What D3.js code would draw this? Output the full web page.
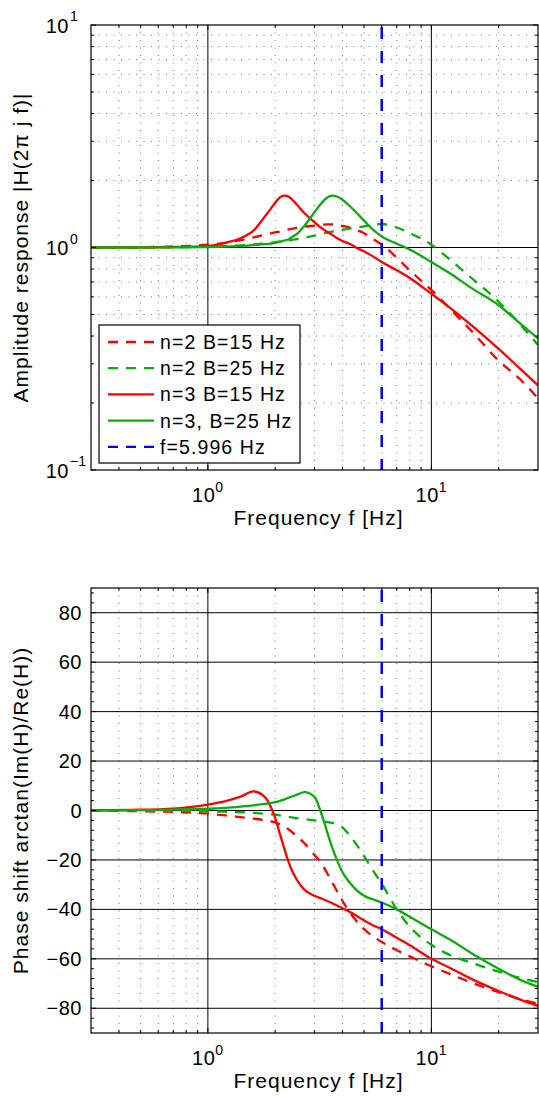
<!DOCTYPE html>
<html>
<head>
<meta charset="utf-8">
<script src="https://cdn.jsdelivr.net/npm/d3@7"></script>
<style>
  body { margin: 0; background: #fff; }
  svg text { font-family: "Liberation Sans", Arial, Helvetica, sans-serif; fill: #000; }
</style>
</head>
<body>
<div id="chart"></div>
<script>
// frequency grid (Hz), shared by every series
var freq = [0.3, 0.5, 0.7, 1, 1.2, 1.4, 1.6, 1.8, 1.9, 2, 2.1, 2.2, 2.3, 2.4, 2.5, 2.7,
            3, 3.2, 3.4, 3.6, 3.8, 4, 4.3, 4.6, 5, 5.5, 6, 7, 8, 10, 12, 15, 20, 25, 30];

// amplitude |H(2 pi j f)|
var ampN2B15 = [1.0, 1.003, 1.01, 1.03, 1.05, 1.08, 1.11, 1.14, 1.155, 1.17, 1.18, 1.195, 1.205, 1.215, 1.225, 1.24,
                1.255, 1.265, 1.27, 1.27, 1.265, 1.25, 1.23, 1.2, 1.16, 1.09, 1.03, 0.9, 0.79, 0.645, 0.535, 0.425, 0.31, 0.255, 0.21];
var ampN2B25 = [1.0, 1.0, 1.003, 1.008, 1.015, 1.022, 1.032, 1.045, 1.05, 1.057, 1.064, 1.07, 1.077, 1.084, 1.09, 1.105,
                1.13, 1.15, 1.165, 1.18, 1.19, 1.2, 1.215, 1.23, 1.245, 1.265, 1.275, 1.23, 1.16, 1.03, 0.89, 0.735, 0.57, 0.45, 0.365];
var ampN3B15 = [1.0, 1.002, 1.005, 1.015, 1.05, 1.1, 1.19, 1.38, 1.48, 1.59, 1.68, 1.71, 1.69, 1.63, 1.56, 1.43,
                1.3, 1.23, 1.18, 1.14, 1.1, 1.07, 1.04, 1.0, 0.96, 0.91, 0.86, 0.79, 0.73, 0.62, 0.54, 0.45, 0.35, 0.285, 0.24];
var ampN3B25 = [1.0, 1.0, 1.002, 1.005, 1.01, 1.015, 1.025, 1.035, 1.04, 1.05, 1.06, 1.075, 1.09, 1.12, 1.15, 1.25,
                1.44, 1.57, 1.67, 1.71, 1.69, 1.64, 1.54, 1.44, 1.32, 1.2, 1.12, 1.04, 0.98, 0.86, 0.77, 0.66, 0.55, 0.455, 0.39];

// phase shift (degrees)
var phaseN2B15 = [-0.1, -0.3, -0.6, -1.3, -2, -2.7, -3.3, -3.9, -4.3, -4.8, -5.6, -6.6, -7.7, -9, -10.4, -13.2,
                  -18, -21, -25, -29, -33, -36.5, -41, -44.5, -48, -51, -53.2, -56.5, -59, -63, -66, -69.5, -73.5, -76.3, -78.2];
var phaseN2B25 = [-0.02, -0.05, -0.15, -0.3, -0.5, -0.7, -1, -1.3, -1.5, -1.7, -2, -2.3, -2.6, -2.9, -3.1, -3.5,
                  -4, -4.3, -4.6, -5, -5.7, -6.8, -10, -13.5, -18.5, -24.5, -29.6, -40, -47, -54.3, -58.3, -61.5, -65.2, -67.7, -69.4];
var phaseN3B15 = [0.1, 0.3, 0.8, 2.4, 3.8, 5.6, 7.7, 5.4, 2, -3, -9.5, -15.5, -21, -25, -28, -32,
                  -34.5, -35.5, -36.5, -37.5, -38.5, -39.5, -41, -42.5, -44.5, -46.5, -48, -51.5, -54.5, -60, -63.5, -68, -73, -76.5, -79];
var phaseN3B25 = [0.05, 0.15, 0.35, 0.7, 1.1, 1.6, 2.1, 2.7, 3, 3.4, 3.9, 4.5, 5.2, 5.8, 6.4, 7.4,
                  5.5, -0.5, -8, -15, -20.5, -25, -29, -32, -34.5, -36, -37.2, -40, -43, -48, -52, -57.5, -64, -68.5, -71.3];

var seriesNames = ["n=2 B=15 Hz", "n=2 B=25 Hz", "n=3 B=15 Hz", "n=3, B=25 Hz"];
var markerFreq = 5.996;
var markerName = "f=5.996 Hz";

var xMajorTicks = [1, 10];
var xMinorTicks = [0.4, 0.5, 0.6, 0.7, 0.8, 0.9, 2, 3, 4, 5, 6, 7, 8, 9, 20];
var ampMajorTicks = [0.1, 1, 10];
var ampMinorTicks = [0.2, 0.3, 0.4, 0.5, 0.6, 0.7, 0.8, 0.9, 2, 3, 4, 5, 6, 7, 8, 9];
var phaseMajorTicks = [-80, -60, -40, -20, 0, 20, 40, 60, 80];
var phaseMinorTicks = d3.range(-88, 89, 4).filter(function(v) { return v % 20 !== 0; });

function init() {
    var w = 539, h = 1096;
    var left = 91, right = 538;
    var red = "#ff0000", green = "#0aad0a", blue = "#0000ff";

    var series = [
        { name: seriesNames[0], color: red,   dash: "10,8", amp: ampN2B15, phase: phaseN2B15 },
        { name: seriesNames[1], color: green, dash: "10,8", amp: ampN2B25, phase: phaseN2B25 },
        { name: seriesNames[2], color: red,   dash: null,   amp: ampN3B15, phase: phaseN3B15 },
        { name: seriesNames[3], color: green, dash: null,   amp: ampN3B25, phase: phaseN3B25 }
    ];

    var svg = d3.select("#chart").append("svg")
        .attr("width", w).attr("height", h);

    var xScale = d3.scaleLog().domain([0.3, 30]).range([left, right]);

    function panel(opt) {
        var y = opt.y, top = opt.top, bottom = opt.bottom;
        var g = svg.append("g");
        var clipId = "clip" + opt.key;
        svg.append("clipPath").attr("id", clipId).append("rect")
            .attr("x", left).attr("y", top).attr("width", right - left).attr("height", bottom - top);

        // dotted minor grid
        g.selectAll(".vminor").data(xMinorTicks).enter().append("line")
            .attr("x1", function(d) { return xScale(d); }).attr("x2", function(d) { return xScale(d); })
            .attr("y1", top).attr("y2", bottom)
            .attr("stroke", "#666").attr("stroke-width", 0.9).attr("stroke-dasharray", "1,6.5");
        if (opt.hMinorGrid) {
            g.selectAll(".hminor").data(opt.minor).enter().append("line")
                .attr("x1", left).attr("x2", right)
                .attr("y1", function(d) { return y(d); }).attr("y2", function(d) { return y(d); })
                .attr("stroke", "#666").attr("stroke-width", 0.9).attr("stroke-dasharray", "1,6.5");
        }
        // solid major grid
        g.selectAll(".vmajor").data(xMajorTicks).enter().append("line")
            .attr("x1", function(d) { return xScale(d); }).attr("x2", function(d) { return xScale(d); })
            .attr("y1", top).attr("y2", bottom)
            .attr("stroke", "#000").attr("stroke-width", 1);
        g.selectAll(".hmajor").data(opt.major.filter(function(d) { return y(d) > top + 1 && y(d) < bottom - 1; }))
            .enter().append("line")
            .attr("x1", left).attr("x2", right)
            .attr("y1", function(d) { return y(d); }).attr("y2", function(d) { return y(d); })
            .attr("stroke", "#000").attr("stroke-width", 1);

        // curves
        var line = d3.line()
            .x(function(d) { return xScale(d[0]); })
            .y(function(d) { return y(d[1]); })
            .curve(d3.curveMonotoneX);
        var cg = g.append("g").attr("clip-path", "url(#" + clipId + ")");
        series.forEach(function(s) {
            var pts = freq.map(function(f, i) { return [f, s[opt.key][i]]; });
            cg.append("path")
                .datum(pts)
                .attr("d", line)
                .attr("fill", "none")
                .attr("stroke", s.color)
                .attr("stroke-width", 2.3)
                .attr("stroke-dasharray", s.dash);
        });
        cg.append("line")
            .attr("x1", xScale(markerFreq)).attr("x2", xScale(markerFreq))
            .attr("y1", top + 2).attr("y2", bottom)
            .attr("stroke", blue).attr("stroke-width", 2.5).attr("stroke-dasharray", "12,12");

        // frame
        g.append("rect").attr("x", left).attr("y", top)
            .attr("width", right - left).attr("height", bottom - top)
            .attr("fill", "none").attr("stroke", "#000").attr("stroke-width", 1.2);

        // inward ticks on all four sides
        function xTicks(vals, len) {
            vals.forEach(function(v) {
                var xx = xScale(v);
                g.append("line").attr("x1", xx).attr("x2", xx).attr("y1", bottom).attr("y2", bottom - len)
                    .attr("stroke", "#000");
                g.append("line").attr("x1", xx).attr("x2", xx).attr("y1", top).attr("y2", top + len)
                    .attr("stroke", "#000");
            });
        }
        function yTicks(vals, len) {
            vals.forEach(function(v) {
                var yy = y(v);
                g.append("line").attr("x1", left).attr("x2", left + len).attr("y1", yy).attr("y2", yy)
                    .attr("stroke", "#000");
                g.append("line").attr("x1", right).attr("x2", right - len).attr("y1", yy).attr("y2", yy)
                    .attr("stroke", "#000");
            });
        }
        xTicks(xMajorTicks, 5); xTicks(xMinorTicks, 3);
        yTicks(opt.major, 5); yTicks(opt.minor, 3);

        // x tick labels 10^n
        xMajorTicks.forEach(function(v) {
            var t = g.append("text").attr("x", xScale(v)).attr("y", bottom + 32)
                .attr("text-anchor", "middle").attr("font-size", 20).attr("letter-spacing", 0.5);
            t.append("tspan").text("10");
            t.append("tspan").attr("dy", -10).attr("font-size", 14).text(Math.round(Math.log10(v)));
        });

        // y tick labels
        opt.major.forEach(function(v) {
            var yy = y(v);
            if (opt.logLabels) {
                var e = Math.round(Math.log10(v));
                g.append("text").attr("x", 69).attr("y", yy + 7.5)
                    .attr("text-anchor", "end").attr("font-size", 20).attr("letter-spacing", 0.5).text("10");
                g.append("text").attr("x", 70).attr("y", yy - 4)
                    .attr("font-size", 14).text(e < 0 ? "\u2212" + (-e) : e);
            } else {
                g.append("text").attr("x", 82).attr("y", yy + 7)
                    .attr("text-anchor", "end").attr("font-size", 20).attr("letter-spacing", 0.5)
                    .text(v < 0 ? "\u2212" + (-v) : v);
            }
        });

        // axis titles
        g.append("text").attr("x", (left + right) / 2 + 4).attr("y", bottom + 55)
            .attr("text-anchor", "middle").attr("font-size", 21).attr("letter-spacing", 1)
            .text("Frequency f [Hz]");
        g.append("text")
            .attr("transform", "translate(28," + ((top + bottom) / 2) + ") rotate(-90)")
            .attr("text-anchor", "middle").attr("font-size", 21).attr("letter-spacing", 1)
            .text(opt.yTitle);
    }

    panel({
        key: "amp", top: 25, bottom: 470,
        y: d3.scaleLog().domain([0.1, 10]).range([470, 25]),
        major: ampMajorTicks, minor: ampMinorTicks, hMinorGrid: true, logLabels: true,
        yTitle: "Amplitude response |H(2\u03c0 j f)|"
    });
    panel({
        key: "phase", top: 588, bottom: 1033,
        y: d3.scaleLinear().domain([-90, 90]).range([1033, 588]),
        major: phaseMajorTicks, minor: phaseMinorTicks, hMinorGrid: false, logLabels: false,
        yTitle: "Phase shift arctan(Im(H)/Re(H))"
    });

    // legend in the upper panel
    var legendItems = series.map(function(s) { return { name: s.name, color: s.color, dash: s.dash }; });
    legendItems.push({ name: markerName, color: blue, dash: "10,8" });
    var lg = svg.append("g");
    lg.append("rect").attr("x", 99).attr("y", 325).attr("width", 201).attr("height", 138)
        .attr("fill", "#fff").attr("stroke", "#000").attr("stroke-width", 1.2);
    legendItems.forEach(function(d, i) {
        var yy = 342 + i * 26.2;
        lg.append("line").attr("x1", 108).attr("x2", 154).attr("y1", yy).attr("y2", yy)
            .attr("stroke", d.color).attr("stroke-width", 2.3).attr("stroke-dasharray", d.dash);
        lg.append("text").attr("x", 160).attr("y", yy + 7)
            .attr("font-size", 19.5).attr("letter-spacing", 1.1).text(d.name);
    });
}

window.onload = init;
</script>
</body>
</html>
